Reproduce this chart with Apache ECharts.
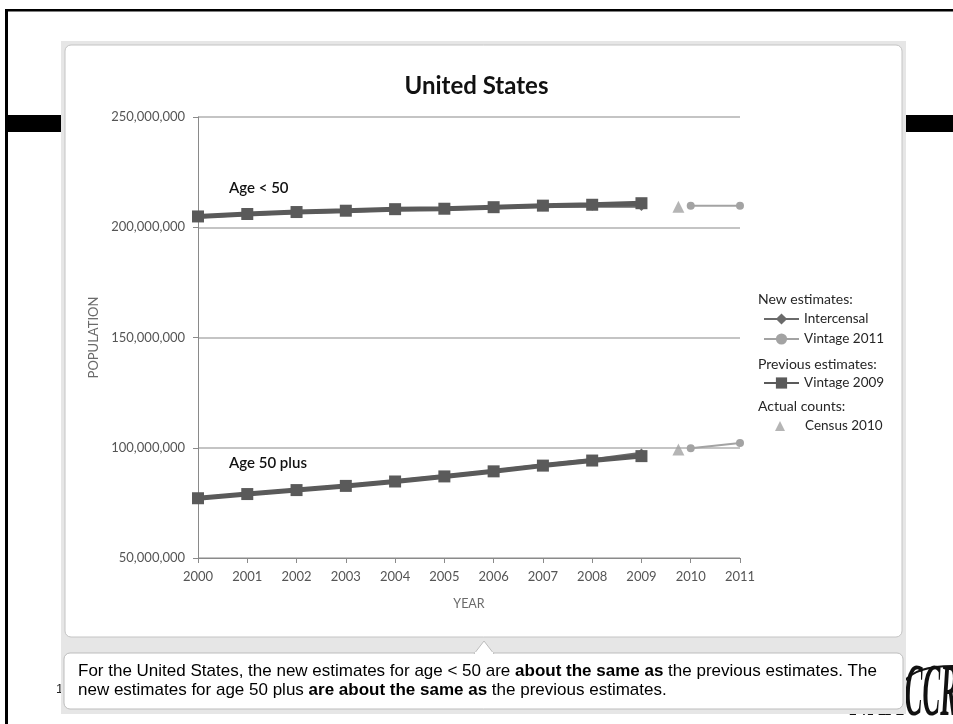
<!DOCTYPE html>
<html>
<head>
<meta charset="utf-8">
<script src="https://cdn.jsdelivr.net/npm/echarts@6/dist/echarts.min.js"></script>
<style>
html,body{margin:0;padding:0;background:#fff;}
#c{width:953px;height:724px;}
</style>
</head>
<body>
<div id="c"></div>
<script>
// ---- data (millions) ----
const years = [2000, 2001, 2002, 2003, 2004, 2005, 2006, 2007, 2008, 2009];
const years2011 = [2010, 2011];
const censusYear = 2009.75;
const xTicks = [2000, 2011];
const yTicks = [50000000, 250000000, 50000000];

const under50Intercensal = [204.8, 205.9, 206.8, 207.4, 208.1, 208.3, 209.0, 209.5, 209.8, 209.6];
const under50Vintage2009 = [204.9, 206.0, 206.9, 207.5, 208.2, 208.4, 209.1, 209.8, 210.2, 210.9];
const under50Vintage2011 = [209.8, 209.8];
const under50Census = 209.3;

const plus50Intercensal = [77.1, 79.0, 80.8, 82.7, 84.8, 87.1, 89.4, 92.1, 94.5, 97.4];
const plus50Vintage2009 = [77.1, 79.0, 80.8, 82.7, 84.7, 87.0, 89.3, 91.9, 94.2, 96.2];
const plus50Vintage2011 = [99.8, 102.2];
const plus50Census = 99.2;

const M = 1e6;
const pairs = (xs, vs) => xs.map((x, i) => [x, vs[i] * M]);

const font = 'Lato, "Open Sans", sans-serif';
const dark = '#5a5a5a';
const mid = '#6a6a6a';
const light = '#a3a3a3';

const chart = echarts.init(document.getElementById('c'));

function lineSeries(name, data, color, width, symbol, size, z) {
  return {
    name: name, type: 'line', data: data, z: z,
    symbol: symbol, symbolSize: size, showSymbol: true,
    lineStyle: { color: color, width: width },
    itemStyle: { color: color },
    emphasis: { disabled: true },
    animation: false
  };
}

const legendText = { fontFamily: font, fontSize: 13.5, color: '#262626' };

const option = {
  animation: false,
  textStyle: { fontFamily: font },
  title: {
    text: 'United States', left: 'center', top: 69,
    textStyle: { fontFamily: font, fontSize: 24, fontWeight: 'bold', color: '#111' }
  },
  grid: { left: 198, right: 213, top: 117, bottom: 166 },
  xAxis: {
    type: 'value', min: xTicks[0], max: xTicks[1], interval: 1,
    name: 'YEAR', nameLocation: 'middle', nameGap: 39,
    nameTextStyle: { color: '#6a6a6a', fontSize: 12.5, fontFamily: font },
    axisLine: { show: true, lineStyle: { color: '#8a8a8a' } },
    axisTick: { show: true, length: 5, lineStyle: { color: '#8a8a8a' } },
    axisLabel: { color: '#555', fontSize: 13, margin: 12, fontFamily: font,
      formatter: v => String(v) },
    splitLine: { show: false }
  },
  yAxis: {
    type: 'value', min: yTicks[0], max: yTicks[1], interval: yTicks[2],
    name: 'POPULATION', nameLocation: 'middle', nameGap: 98, nameRotate: 90,
    nameTextStyle: { color: '#6a6a6a', fontSize: 13, fontFamily: font },
    axisLine: { show: true, lineStyle: { color: '#8a8a8a' } },
    axisTick: { show: true, length: 5, lineStyle: { color: '#8a8a8a' } },
    axisLabel: { color: '#555', fontSize: 13, margin: 13, fontFamily: font },
    splitLine: { show: true, lineStyle: { color: '#b0b0b0', width: 1.5 } }
  },
  legend: [
    { data: ['Intercensal', 'Vintage 2011'], orient: 'vertical', left: 763, top: 312,
      itemWidth: 35, itemHeight: 14, itemGap: 6, selectedMode: false, padding: 0,
      textStyle: legendText },
    { data: ['Vintage 2009'], orient: 'vertical', left: 763, top: 376,
      itemWidth: 35, itemHeight: 14, selectedMode: false, padding: 0,
      textStyle: legendText },
    { data: ['Census 2010'], orient: 'vertical', left: 775, top: 419,
      itemWidth: 10, itemHeight: 10, selectedMode: false, padding: 0,
      textStyle: Object.assign({}, legendText, { padding: [0, 0, 0, 15] }) }
  ],
  series: [
    lineSeries('Intercensal', pairs(years, under50Intercensal), mid, 3.5, 'diamond', 10, 3),
    lineSeries('Vintage 2009', pairs(years, under50Vintage2009), dark, 5, 'rect', 12, 4),
    lineSeries('Vintage 2011', pairs(years2011, under50Vintage2011), light, 2, 'circle', 8, 3),
    { name: 'Census 2010', type: 'scatter', data: [[censusYear, under50Census * M]],
      symbol: 'triangle', symbolSize: 12, itemStyle: { color: light }, z: 3 },
    lineSeries('Intercensal', pairs(years, plus50Intercensal), mid, 3.5, 'diamond', 10, 3),
    lineSeries('Vintage 2009', pairs(years, plus50Vintage2009), dark, 5, 'rect', 12, 4),
    lineSeries('Vintage 2011', pairs(years2011, plus50Vintage2011), light, 2, 'circle', 8, 3),
    { name: 'Census 2010', type: 'scatter', data: [[censusYear, plus50Census * M]],
      symbol: 'triangle', symbolSize: 12, itemStyle: { color: light }, z: 3 }
  ],
  graphic: [
    // logo (behind panel)
    { type: 'text', z: -30, left: 850, top: 659,
      style: { text: 'NAACCR', fill: '#111', font: 'italic bold 74px "Liberation Serif", serif' },
      scaleX: 0.36 },
    { type: 'bezierCurve', z: -30,
      shape: { x1: 904, y1: 682, x2: 953, y2: 666, cpx1: 915, cpy1: 666 },
      style: { stroke: '#111', lineWidth: 2, fill: null } },
    // frame
    { type: 'rect', z: -30, shape: { x: 5, y: 9, width: 3, height: 715 }, style: { fill: '#000' } },
    { type: 'rect', z: -30, shape: { x: 5, y: 9, width: 948, height: 2.5 }, style: { fill: '#000' } },
    { type: 'rect', z: -30, shape: { x: 5, y: 115, width: 60, height: 17 }, style: { fill: '#000' } },
    { type: 'rect', z: -30, shape: { x: 900, y: 115, width: 53, height: 17 }, style: { fill: '#000' } },
    { type: 'text', z: -30, left: 56, top: 683,
      style: { text: '1', fill: '#222', font: '13px "Liberation Sans", Arial' } },
    // gray panel
    { type: 'rect', z: -20, shape: { x: 61, y: 41, width: 845, height: 673 }, style: { fill: '#e6e6e6' } },
    // chart card
    { type: 'rect', z: -10, shape: { x: 65, y: 45, width: 837, height: 592, r: 6 },
      style: { fill: '#fff', stroke: '#c4c4c4', lineWidth: 1 } },
    // callout
    { type: 'rect', z: -10, shape: { x: 64, y: 653, width: 839, height: 56, r: 6 },
      style: { fill: '#fff', stroke: '#bdbdbd', lineWidth: 1 } },
    { type: 'polyline', z: -9, shape: { points: [[474, 654], [484, 641], [494, 654]] },
      style: { fill: '#fff', stroke: '#bdbdbd', lineWidth: 1 } },
    { type: 'rect', z: -8, shape: { x: 475, y: 652, width: 18, height: 3 }, style: { fill: '#fff' } },
    { type: 'text', z: 5, left: 78, top: 663,
      style: {
        text: '{n|For the United States, the new estimates for age < 50 are }{b|about the same as}{n| the previous estimates. The}\n' +
              '{n|new estimates for age 50 plus }{b|are about the same as}{n| the previous estimates.}',
        rich: {
          n: { fontFamily: '"Liberation Sans", Arial', fontSize: 17, color: '#1a1a1a', lineHeight: 19 },
          b: { fontFamily: '"Liberation Sans", Arial', fontSize: 17, fontWeight: 'bold', color: '#1a1a1a', lineHeight: 19 }
        }
      } },
    // annotations
    { type: 'text', z: 5, left: 229, top: 181,
      style: { text: 'Age < 50', fill: '#111', font: '600 15px Lato, sans-serif' } },
    { type: 'text', z: 5, left: 229, top: 456,
      style: { text: 'Age 50 plus', fill: '#111', font: '600 15px Lato, sans-serif' } },
    // legend headers
    { type: 'text', z: 5, left: 758, top: 292,
      style: { text: 'New estimates:', fill: '#262626', font: '14px Lato, sans-serif' } },
    { type: 'text', z: 5, left: 758, top: 357,
      style: { text: 'Previous estimates:', fill: '#262626', font: '14px Lato, sans-serif' } },
    { type: 'text', z: 5, left: 758, top: 399,
      style: { text: 'Actual counts:', fill: '#262626', font: '14px Lato, sans-serif' } }
  ]
};
chart.setOption(option);
</script>
</body>
</html>
